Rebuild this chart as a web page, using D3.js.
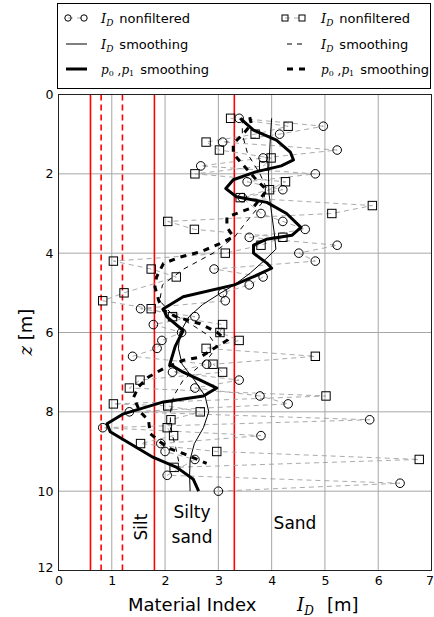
<!DOCTYPE html>
<html>
<head>
<meta charset="utf-8">
<script src="https://cdn.jsdelivr.net/npm/d3@7"></script>
<style>
  html, body { margin: 0; padding: 0; background: #fff; }
  svg { display: block; font-family: "DejaVu Sans", sans-serif; }
</style>
</head>
<body>
<svg id="chart" width="434" height="617"></svg>
<script>
// Material index I_D profile: two soundings (circles / squares) with smoothed curves

// Sounding 1 (circles): depth [m] and I_D
const circleDepth = [0.6, 0.8, 1.0, 1.2, 1.4, 1.6, 1.8, 2.0, 2.2, 2.4, 2.6, 3.0, 3.2, 3.4, 3.6, 3.8, 4.0, 4.2, 4.4, 4.6, 4.8, 5.0, 5.2, 5.4, 5.6, 5.8, 6.0, 6.2, 6.4, 6.6, 6.8, 7.0, 7.2, 7.4, 7.6, 7.8, 8.0, 8.2, 8.4, 8.6, 8.8, 9.0, 9.2, 9.6, 9.8, 10.0];
const circleValue = [3.39, 4.97, 4.15, 3.08, 5.23, 3.84, 2.67, 4.82, 3.54, 4.21, 3.45, 3.80, 4.21, 4.63, 3.58, 5.23, 4.51, 4.82, 2.92, 3.84, 3.58, 3.08, 3.13, 1.54, 2.56, 1.78, 2.31, 1.94, 1.85, 1.39, 2.78, 2.14, 3.39, 2.56, 3.78, 4.31, 1.33, 5.84, 0.83, 3.80, 1.92, 2.00, 2.56, 2.04, 6.41, 3.00];

// Sounding 2 (squares): depth [m] and I_D
const squareDepth = [0.6, 0.8, 1.0, 1.2, 1.4, 1.6, 1.8, 2.0, 2.2, 2.4, 2.6, 2.8, 3.0, 3.2, 3.4, 3.6, 3.8, 4.0, 4.2, 4.4, 4.6, 5.0, 5.2, 5.4, 5.6, 5.8, 6.0, 6.2, 6.4, 6.6, 6.8, 7.0, 7.2, 7.4, 7.6, 7.8, 7.85, 8.0, 8.2, 8.4, 8.6, 8.8, 9.0, 9.2, 9.4];
const squareValue = [3.23, 4.31, 3.69, 2.77, 3.02, 3.99, 3.85, 2.56, 4.26, 3.96, 3.41, 5.89, 5.13, 2.05, 2.55, 4.21, 3.80, 3.13, 1.03, 1.74, 2.21, 1.23, 0.83, 1.74, 2.14, 3.08, 3.03, 3.39, 2.77, 4.82, 2.90, 3.08, 1.53, 1.33, 5.02, 1.03, 2.05, 2.66, 2.11, 2.04, 2.16, 1.54, 2.97, 6.77, 2.17];

// I_D smoothing, sounding 1 (thin solid)
const smoothIdDepth = [0.6, 1.0, 1.5, 2.0, 2.5, 3.0, 3.5, 3.9, 4.2, 4.5, 4.8, 5.0, 5.3, 5.6, 6.0, 6.4, 6.8, 7.2, 7.6, 8.0, 8.4, 8.8, 9.2, 9.6, 10.0];
const smoothIdValue = [4.00, 3.98, 3.96, 3.94, 3.95, 4.00, 4.05, 4.08, 3.85, 3.60, 3.30, 3.05, 2.70, 2.45, 2.28, 2.25, 2.32, 2.55, 2.75, 2.82, 2.72, 2.55, 2.47, 2.46, 2.47];

// p0,p1 smoothing, sounding 1 (thick solid)
const smoothPDepth = [0.6, 0.9, 1.15, 1.45, 1.65, 1.8, 1.95, 2.15, 2.37, 2.58, 2.72, 3.0, 3.35, 3.55, 3.65, 3.8, 4.0, 4.25, 4.38, 4.6, 4.8, 5.1, 5.4, 5.6, 5.95, 6.35, 6.8, 7.0, 7.2, 7.4, 7.6, 7.75, 8.05, 8.3, 8.5, 8.8, 9.15, 9.4, 9.7, 10.0];
const smoothPValue = [3.41, 3.66, 4.09, 4.35, 4.41, 4.18, 3.70, 3.28, 3.14, 3.34, 3.91, 4.28, 4.55, 4.38, 3.90, 3.66, 3.66, 3.91, 4.00, 3.65, 3.30, 2.34, 1.97, 2.03, 2.34, 2.19, 2.09, 2.34, 2.66, 2.97, 2.72, 1.97, 1.22, 0.91, 0.97, 1.34, 1.78, 2.22, 2.53, 2.63];

// I_D smoothing, sounding 2 (thin dashed)
const smoothId2Depth = [0.6, 1.0, 1.5, 2.0, 2.35, 2.7, 3.2, 3.6, 4.0, 4.4, 4.8, 5.2, 5.5, 5.8, 6.1, 6.35, 6.6, 6.9, 7.2, 7.6, 8.0, 8.4, 8.9, 9.4];
const smoothId2Value = [3.45, 3.45, 3.55, 3.78, 3.90, 3.84, 3.53, 3.30, 2.90, 2.35, 1.95, 1.90, 2.10, 2.50, 2.84, 2.97, 2.84, 2.60, 2.34, 2.16, 2.10, 2.10, 2.20, 2.28];

// p0,p1 smoothing, sounding 2 (thick dashed)
const smoothP2Depth = [0.57, 0.75, 0.99, 1.24, 1.49, 1.74, 2.16, 2.41, 2.84, 3.09, 3.34, 3.59, 3.76, 3.97, 4.1, 4.26, 4.6, 4.85, 5.19, 5.44, 5.61, 5.78, 5.99, 6.2, 6.62, 6.7, 6.91, 7.12, 7.37, 7.63, 8.0, 8.21, 8.55, 8.76, 8.93, 9.05, 9.3];
const smoothP2Value = [3.59, 3.62, 3.47, 3.28, 3.28, 3.44, 3.72, 3.91, 3.66, 3.16, 3.16, 3.28, 3.03, 2.66, 2.28, 1.97, 1.84, 1.81, 1.88, 1.97, 2.22, 2.66, 2.97, 3.16, 2.66, 2.34, 1.97, 1.69, 1.50, 1.41, 1.53, 1.69, 1.72, 1.91, 2.09, 2.34, 2.78];

// Soil class boundaries (solid) and their alternatives (dashed)
const boundarySolid = [0.6, 1.8, 3.3];
const boundaryDashed = [0.8, 1.2];

const xTicks = [0, 1, 2, 3, 4, 5, 6, 7];
const yTicks = [0, 2, 4, 6, 8, 10, 12];

const svg = d3.select("#chart");
const plot = { left: 58.5, right: 431.5, top: 94.5, bottom: 570.5 };

const x = d3.scaleLinear().domain([0, 7]).range([plot.left, plot.right]);
const y = d3.scaleLinear().domain([0, 12]).range([plot.top, plot.bottom]);

// grid
const gGrid = svg.append("g");
gGrid.selectAll(".gx").data(xTicks).join("line")
  .attr("x1", d => x(d)).attr("x2", d => x(d))
  .attr("y1", plot.top).attr("y2", plot.bottom)
  .attr("stroke", "#a6a6a6").attr("stroke-width", 1);
gGrid.selectAll(".gy").data(yTicks).join("line")
  .attr("x1", plot.left).attr("x2", plot.right)
  .attr("y1", d => y(d)).attr("y2", d => y(d))
  .attr("stroke", "#a6a6a6").attr("stroke-width", 1);

// boundaries
svg.append("g").selectAll("line").data(boundarySolid).join("line")
  .attr("x1", d => x(d)).attr("x2", d => x(d))
  .attr("y1", plot.top).attr("y2", plot.bottom)
  .attr("stroke", "#ff0000").attr("stroke-width", 1.6);
svg.append("g").selectAll("line").data(boundaryDashed).join("line")
  .attr("x1", d => x(d)).attr("x2", d => x(d))
  .attr("y1", plot.top).attr("y2", plot.bottom)
  .attr("stroke", "#ff0000").attr("stroke-width", 1.6)
  .attr("stroke-dasharray", "6,4");

const line = d3.line().x(d => x(d[1])).y(d => y(d[0]));
const zip = (a, b) => a.map((v, i) => [v, b[i]]);

// raw soundings joined with grey dashes
svg.append("path").datum(zip(circleDepth, circleValue))
  .attr("d", line).attr("fill", "none")
  .attr("stroke", "#a0a0a0").attr("stroke-width", 0.9).attr("stroke-dasharray", "5,4");
svg.append("path").datum(zip(squareDepth, squareValue))
  .attr("d", line).attr("fill", "none")
  .attr("stroke", "#a0a0a0").attr("stroke-width", 0.9).attr("stroke-dasharray", "5,4");

// smoothed curves
svg.append("path").datum(zip(smoothIdDepth, smoothIdValue))
  .attr("d", line).attr("fill", "none").attr("stroke", "#000").attr("stroke-width", 1);
svg.append("path").datum(zip(smoothId2Depth, smoothId2Value))
  .attr("d", line).attr("fill", "none").attr("stroke", "#000").attr("stroke-width", 1)
  .attr("stroke-dasharray", "5,5");
svg.append("path").datum(zip(smoothPDepth, smoothPValue))
  .attr("d", line).attr("fill", "none").attr("stroke", "#000").attr("stroke-width", 3)
  .attr("stroke-linejoin", "round");
svg.append("path").datum(zip(smoothP2Depth, smoothP2Value))
  .attr("d", line).attr("fill", "none").attr("stroke", "#000").attr("stroke-width", 3)
  .attr("stroke-dasharray", "6,6");

// markers
svg.append("g").selectAll("circle").data(zip(circleDepth, circleValue)).join("circle")
  .attr("cx", d => x(d[1])).attr("cy", d => y(d[0])).attr("r", 4.3)
  .attr("fill", "none").attr("stroke", "#000").attr("stroke-width", 1);
svg.append("g").selectAll("rect").data(zip(squareDepth, squareValue)).join("rect")
  .attr("x", d => x(d[1]) - 4.2).attr("y", d => y(d[0]) - 4.2)
  .attr("width", 8.4).attr("height", 8.4)
  .attr("fill", "none").attr("stroke", "#000").attr("stroke-width", 1);

// frame
svg.append("rect")
  .attr("x", plot.left).attr("y", plot.top)
  .attr("width", plot.right - plot.left).attr("height", plot.bottom - plot.top)
  .attr("fill", "none").attr("stroke", "#222").attr("stroke-width", 1);

// axes
const xAxis = d3.axisBottom(x).tickValues(xTicks).tickFormat(d3.format("d")).tickSize(0).tickPadding(6);
const yAxis = d3.axisLeft(y).tickValues(yTicks).tickFormat(d3.format("d")).tickSize(0).tickPadding(5);
const gx = svg.append("g").attr("transform", `translate(0,${plot.bottom})`).call(xAxis);
const gy = svg.append("g").attr("transform", `translate(${plot.left},0)`).call(yAxis);
[gx, gy].forEach(g => {
  g.select(".domain").remove();
  g.selectAll("text").attr("font-size", 12.5).attr("fill", "#000")
    .attr("font-family", "DejaVu Sans, sans-serif");
});
// keep the last x tick label inside the page
gx.selectAll(".tick").filter(d => d === 7).select("text")
  .attr("text-anchor", "end").attr("dx", 2);
// lift the bottom y label slightly off the x axis labels
gy.selectAll(".tick").filter(d => d === 12).select("text").attr("dy", "0.1em");

// soil class labels
svg.append("text").attr("transform", `translate(147,527) rotate(-90)`)
  .attr("text-anchor", "middle").attr("font-size", 17).text("Silt");
svg.append("text").attr("x", 192).attr("y", 518)
  .attr("text-anchor", "middle").attr("font-size", 17).text("Silty");
svg.append("text").attr("x", 192).attr("y", 543)
  .attr("text-anchor", "middle").attr("font-size", 17).text("sand");
svg.append("text").attr("x", 295).attr("y", 529)
  .attr("text-anchor", "middle").attr("font-size", 17).text("Sand");

// axis titles
const xt = svg.append("text").attr("x", 128).attr("y", 611).attr("font-size", 18);
xt.append("tspan").text("Material Index");
xt.append("tspan").attr("x", 297).attr("font-family", "DejaVu Serif, serif").attr("font-style", "italic").text("I");
xt.append("tspan").attr("font-family", "DejaVu Serif, serif").attr("font-style", "italic")
  .attr("font-size", 12).attr("dy", 4).text("D");
xt.append("tspan").attr("x", 327).attr("dy", -4).text("[m]");

const yt = svg.append("text").attr("transform", "translate(32,332) rotate(-90)")
  .attr("text-anchor", "middle").attr("font-size", 18);
yt.append("tspan").attr("font-family", "DejaVu Serif, serif").attr("font-style", "italic").text("z");
yt.append("tspan").text(" [m]");

// legend
const lg = svg.append("g");
lg.append("rect").attr("x", 57.5).attr("y", 3.5).attr("width", 373).attr("height", 85)
  .attr("fill", "#fff").attr("stroke", "#000").attr("stroke-width", 1);

const rows = [18, 44, 69];
function idLabel(g, xx, yy, rest) {
  const t = g.append("text").attr("x", xx).attr("y", yy + 4.5).attr("font-size", 13);
  t.append("tspan").attr("font-family", "DejaVu Serif, serif").attr("font-style", "italic").text("I");
  t.append("tspan").attr("font-family", "DejaVu Serif, serif").attr("font-style", "italic")
    .attr("font-size", 9).attr("dy", 3).text("D");
  t.append("tspan").attr("dx", 6).attr("dy", -3).text(rest);
}
function pLabel(g, xx, yy, rest) {
  const t = g.append("text").attr("x", xx).attr("y", yy + 4.5).attr("font-size", 13);
  const serif = "DejaVu Serif, serif";
  t.append("tspan").attr("font-family", serif).attr("font-style", "italic").attr("font-size", 12).text("p");
  t.append("tspan").attr("font-family", serif).attr("font-size", 8).attr("dy", 2).text("0");
  t.append("tspan").attr("font-family", serif).attr("font-size", 12).attr("dy", -2).text(" ,");
  t.append("tspan").attr("font-family", serif).attr("font-style", "italic").attr("font-size", 12).text("p");
  t.append("tspan").attr("font-family", serif).attr("font-size", 8).attr("dy", 2).text("1");
  t.append("tspan").attr("dx", 6).attr("dy", -2).text(rest);
}

// left column: sounding 1
lg.append("line").attr("x1", 68).attr("x2", 84).attr("y1", rows[0]).attr("y2", rows[0])
  .attr("stroke", "#a0a0a0").attr("stroke-width", 0.9).attr("stroke-dasharray", "5,4");
[68, 84].forEach(cx => lg.append("circle").attr("cx", cx).attr("cy", rows[0]).attr("r", 3.2)
  .attr("fill", "none").attr("stroke", "#000"));
idLabel(lg, 101, rows[0], "nonfiltered");
lg.append("line").attr("x1", 66).attr("x2", 87).attr("y1", rows[1]).attr("y2", rows[1])
  .attr("stroke", "#000").attr("stroke-width", 1);
idLabel(lg, 101, rows[1], "smoothing");
lg.append("line").attr("x1", 66).attr("x2", 87).attr("y1", rows[2]).attr("y2", rows[2])
  .attr("stroke", "#000").attr("stroke-width", 3);
pLabel(lg, 101, rows[2], "smoothing");

// right column: sounding 2
lg.append("line").attr("x1", 285).attr("x2", 302).attr("y1", rows[0]).attr("y2", rows[0])
  .attr("stroke", "#a0a0a0").attr("stroke-width", 0.9).attr("stroke-dasharray", "5,4");
[285, 302].forEach(cx => lg.append("rect").attr("x", cx - 3).attr("y", rows[0] - 3)
  .attr("width", 6).attr("height", 6).attr("fill", "none").attr("stroke", "#000"));
idLabel(lg, 321, rows[0], "nonfiltered");
lg.append("line").attr("x1", 287).attr("x2", 306).attr("y1", rows[1]).attr("y2", rows[1])
  .attr("stroke", "#000").attr("stroke-width", 1).attr("stroke-dasharray", "5,5");
idLabel(lg, 321, rows[1], "smoothing");
lg.append("line").attr("x1", 287).attr("x2", 306).attr("y1", rows[2]).attr("y2", rows[2])
  .attr("stroke", "#000").attr("stroke-width", 3).attr("stroke-dasharray", "6,6");
pLabel(lg, 321, rows[2], "smoothing");
</script>
</body>
</html>
